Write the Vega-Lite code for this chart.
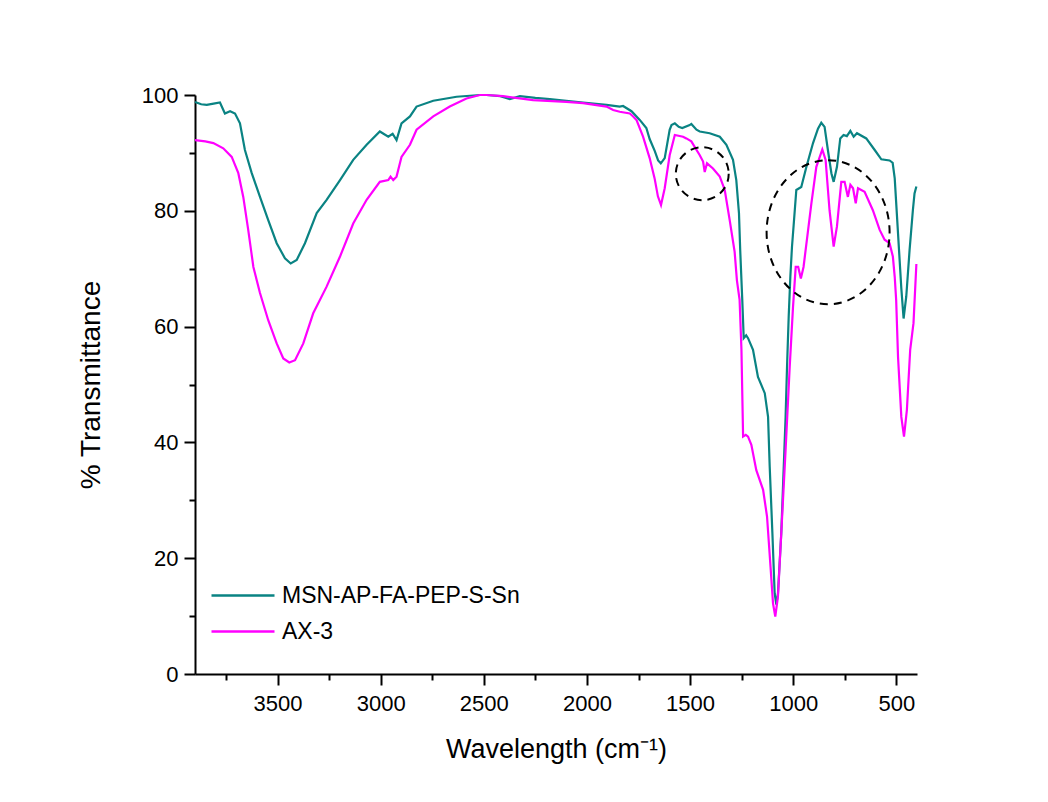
{
  "$schema": "https://vega.github.io/schema/vega-lite/v6.json",
  "autosize": {"type": "none"},
  "padding": {"left": 195, "top": 95, "right": 131, "bottom": 128},
  "width": 722,
  "height": 579,
  "background": "white",
  "config": {
    "view": {"stroke": null},
    "axis": {
      "grid": false,
      "domainColor": "black",
      "domainWidth": 2,
      "tickColor": "black",
      "tickWidth": 2,
      "labelFont": "Liberation Sans",
      "labelFontSize": 22,
      "labelColor": "black",
      "labelOverlap": false,
      "labelFlush": false,
      "titleFont": "Liberation Sans",
      "titleFontWeight": "normal",
      "titleColor": "black",
      "titleFontSize": 27
    },
    "legend": {
      "orient": "none",
      "legendX": 24,
      "legendY": 476.5,
      "symbolType": "M-1.4,0H1.4",
      "symbolSize": 2025,
      "symbolStrokeWidth": 2.5,
      "labelFont": "Liberation Sans",
      "labelFontSize": 23,
      "labelColor": "black",
      "labelLimit": 0,
      "labelOffset": 15,
      "rowPadding": 0,
      "padding": 0
    }
  },
  "datasets": {
    "spectra": [
      {"sample": "MSN-AP-FA-PEP-S-Sn", "wn": 3900, "T": 98.8},
      {"sample": "MSN-AP-FA-PEP-S-Sn", "wn": 3870, "T": 98.4},
      {"sample": "MSN-AP-FA-PEP-S-Sn", "wn": 3843, "T": 98.3},
      {"sample": "MSN-AP-FA-PEP-S-Sn", "wn": 3810, "T": 98.5},
      {"sample": "MSN-AP-FA-PEP-S-Sn", "wn": 3779, "T": 98.7},
      {"sample": "MSN-AP-FA-PEP-S-Sn", "wn": 3755, "T": 96.8},
      {"sample": "MSN-AP-FA-PEP-S-Sn", "wn": 3730, "T": 97.2},
      {"sample": "MSN-AP-FA-PEP-S-Sn", "wn": 3706, "T": 96.8},
      {"sample": "MSN-AP-FA-PEP-S-Sn", "wn": 3682, "T": 95.1},
      {"sample": "MSN-AP-FA-PEP-S-Sn", "wn": 3658, "T": 90.5},
      {"sample": "MSN-AP-FA-PEP-S-Sn", "wn": 3625, "T": 86.5},
      {"sample": "MSN-AP-FA-PEP-S-Sn", "wn": 3585, "T": 82.4},
      {"sample": "MSN-AP-FA-PEP-S-Sn", "wn": 3545, "T": 78.4},
      {"sample": "MSN-AP-FA-PEP-S-Sn", "wn": 3504, "T": 74.4},
      {"sample": "MSN-AP-FA-PEP-S-Sn", "wn": 3464, "T": 71.8},
      {"sample": "MSN-AP-FA-PEP-S-Sn", "wn": 3436, "T": 70.9},
      {"sample": "MSN-AP-FA-PEP-S-Sn", "wn": 3407, "T": 71.5},
      {"sample": "MSN-AP-FA-PEP-S-Sn", "wn": 3367, "T": 74.4},
      {"sample": "MSN-AP-FA-PEP-S-Sn", "wn": 3310, "T": 79.6},
      {"sample": "MSN-AP-FA-PEP-S-Sn", "wn": 3262, "T": 81.9},
      {"sample": "MSN-AP-FA-PEP-S-Sn", "wn": 3197, "T": 85.3},
      {"sample": "MSN-AP-FA-PEP-S-Sn", "wn": 3133, "T": 88.8},
      {"sample": "MSN-AP-FA-PEP-S-Sn", "wn": 3068, "T": 91.4},
      {"sample": "MSN-AP-FA-PEP-S-Sn", "wn": 3004, "T": 93.7},
      {"sample": "MSN-AP-FA-PEP-S-Sn", "wn": 2963, "T": 92.8},
      {"sample": "MSN-AP-FA-PEP-S-Sn", "wn": 2942, "T": 93.3},
      {"sample": "MSN-AP-FA-PEP-S-Sn", "wn": 2923, "T": 92.2},
      {"sample": "MSN-AP-FA-PEP-S-Sn", "wn": 2899, "T": 95.1},
      {"sample": "MSN-AP-FA-PEP-S-Sn", "wn": 2858, "T": 96.3},
      {"sample": "MSN-AP-FA-PEP-S-Sn", "wn": 2826, "T": 98.0},
      {"sample": "MSN-AP-FA-PEP-S-Sn", "wn": 2745, "T": 99.0},
      {"sample": "MSN-AP-FA-PEP-S-Sn", "wn": 2632, "T": 99.7},
      {"sample": "MSN-AP-FA-PEP-S-Sn", "wn": 2519, "T": 100},
      {"sample": "MSN-AP-FA-PEP-S-Sn", "wn": 2487, "T": 100},
      {"sample": "MSN-AP-FA-PEP-S-Sn", "wn": 2420, "T": 99.8},
      {"sample": "MSN-AP-FA-PEP-S-Sn", "wn": 2374, "T": 99.3},
      {"sample": "MSN-AP-FA-PEP-S-Sn", "wn": 2325, "T": 99.8},
      {"sample": "MSN-AP-FA-PEP-S-Sn", "wn": 2250, "T": 99.5},
      {"sample": "MSN-AP-FA-PEP-S-Sn", "wn": 2180, "T": 99.3},
      {"sample": "MSN-AP-FA-PEP-S-Sn", "wn": 2100, "T": 99.0},
      {"sample": "MSN-AP-FA-PEP-S-Sn", "wn": 2019, "T": 98.7},
      {"sample": "MSN-AP-FA-PEP-S-Sn", "wn": 1905, "T": 98.3},
      {"sample": "MSN-AP-FA-PEP-S-Sn", "wn": 1841, "T": 98.0},
      {"sample": "MSN-AP-FA-PEP-S-Sn", "wn": 1825, "T": 98.1},
      {"sample": "MSN-AP-FA-PEP-S-Sn", "wn": 1784, "T": 97.2},
      {"sample": "MSN-AP-FA-PEP-S-Sn", "wn": 1744, "T": 95.7},
      {"sample": "MSN-AP-FA-PEP-S-Sn", "wn": 1712, "T": 94.3},
      {"sample": "MSN-AP-FA-PEP-S-Sn", "wn": 1696, "T": 92.4},
      {"sample": "MSN-AP-FA-PEP-S-Sn", "wn": 1671, "T": 90.3},
      {"sample": "MSN-AP-FA-PEP-S-Sn", "wn": 1655, "T": 88.7},
      {"sample": "MSN-AP-FA-PEP-S-Sn", "wn": 1642, "T": 88.2},
      {"sample": "MSN-AP-FA-PEP-S-Sn", "wn": 1623, "T": 89.1},
      {"sample": "MSN-AP-FA-PEP-S-Sn", "wn": 1599, "T": 94.0},
      {"sample": "MSN-AP-FA-PEP-S-Sn", "wn": 1590, "T": 94.8},
      {"sample": "MSN-AP-FA-PEP-S-Sn", "wn": 1574, "T": 95.1},
      {"sample": "MSN-AP-FA-PEP-S-Sn", "wn": 1555, "T": 94.5},
      {"sample": "MSN-AP-FA-PEP-S-Sn", "wn": 1538, "T": 94.3},
      {"sample": "MSN-AP-FA-PEP-S-Sn", "wn": 1502, "T": 94.8},
      {"sample": "MSN-AP-FA-PEP-S-Sn", "wn": 1494, "T": 95.0},
      {"sample": "MSN-AP-FA-PEP-S-Sn", "wn": 1469, "T": 94.0},
      {"sample": "MSN-AP-FA-PEP-S-Sn", "wn": 1453, "T": 93.7},
      {"sample": "MSN-AP-FA-PEP-S-Sn", "wn": 1405, "T": 93.4},
      {"sample": "MSN-AP-FA-PEP-S-Sn", "wn": 1356, "T": 92.8},
      {"sample": "MSN-AP-FA-PEP-S-Sn", "wn": 1324, "T": 91.4},
      {"sample": "MSN-AP-FA-PEP-S-Sn", "wn": 1292, "T": 88.8},
      {"sample": "MSN-AP-FA-PEP-S-Sn", "wn": 1276, "T": 85.3},
      {"sample": "MSN-AP-FA-PEP-S-Sn", "wn": 1263, "T": 79.6},
      {"sample": "MSN-AP-FA-PEP-S-Sn", "wn": 1257, "T": 73.2},
      {"sample": "MSN-AP-FA-PEP-S-Sn", "wn": 1251, "T": 68.0},
      {"sample": "MSN-AP-FA-PEP-S-Sn", "wn": 1247, "T": 64.6},
      {"sample": "MSN-AP-FA-PEP-S-Sn", "wn": 1240, "T": 58.0},
      {"sample": "MSN-AP-FA-PEP-S-Sn", "wn": 1228, "T": 58.5},
      {"sample": "MSN-AP-FA-PEP-S-Sn", "wn": 1219, "T": 58.0},
      {"sample": "MSN-AP-FA-PEP-S-Sn", "wn": 1195, "T": 56.0},
      {"sample": "MSN-AP-FA-PEP-S-Sn", "wn": 1171, "T": 51.3},
      {"sample": "MSN-AP-FA-PEP-S-Sn", "wn": 1138, "T": 48.5},
      {"sample": "MSN-AP-FA-PEP-S-Sn", "wn": 1122, "T": 44.4},
      {"sample": "MSN-AP-FA-PEP-S-Sn", "wn": 1114, "T": 35.8},
      {"sample": "MSN-AP-FA-PEP-S-Sn", "wn": 1101, "T": 24.3},
      {"sample": "MSN-AP-FA-PEP-S-Sn", "wn": 1090, "T": 13.9},
      {"sample": "MSN-AP-FA-PEP-S-Sn", "wn": 1082, "T": 12.0},
      {"sample": "MSN-AP-FA-PEP-S-Sn", "wn": 1074, "T": 13.9},
      {"sample": "MSN-AP-FA-PEP-S-Sn", "wn": 1058, "T": 24.3},
      {"sample": "MSN-AP-FA-PEP-S-Sn", "wn": 1046, "T": 35.8},
      {"sample": "MSN-AP-FA-PEP-S-Sn", "wn": 1037, "T": 44.4},
      {"sample": "MSN-AP-FA-PEP-S-Sn", "wn": 1030, "T": 53.1},
      {"sample": "MSN-AP-FA-PEP-S-Sn", "wn": 1022, "T": 61.7},
      {"sample": "MSN-AP-FA-PEP-S-Sn", "wn": 1014, "T": 68.6},
      {"sample": "MSN-AP-FA-PEP-S-Sn", "wn": 1006, "T": 73.8},
      {"sample": "MSN-AP-FA-PEP-S-Sn", "wn": 998, "T": 77.5},
      {"sample": "MSN-AP-FA-PEP-S-Sn", "wn": 985, "T": 83.6},
      {"sample": "MSN-AP-FA-PEP-S-Sn", "wn": 961, "T": 84.1},
      {"sample": "MSN-AP-FA-PEP-S-Sn", "wn": 936, "T": 87.6},
      {"sample": "MSN-AP-FA-PEP-S-Sn", "wn": 904, "T": 91.7},
      {"sample": "MSN-AP-FA-PEP-S-Sn", "wn": 880, "T": 94.2},
      {"sample": "MSN-AP-FA-PEP-S-Sn", "wn": 864, "T": 95.2},
      {"sample": "MSN-AP-FA-PEP-S-Sn", "wn": 848, "T": 94.5},
      {"sample": "MSN-AP-FA-PEP-S-Sn", "wn": 832, "T": 90.5},
      {"sample": "MSN-AP-FA-PEP-S-Sn", "wn": 815, "T": 86.5},
      {"sample": "MSN-AP-FA-PEP-S-Sn", "wn": 804, "T": 85.0},
      {"sample": "MSN-AP-FA-PEP-S-Sn", "wn": 788, "T": 87.6},
      {"sample": "MSN-AP-FA-PEP-S-Sn", "wn": 772, "T": 92.5},
      {"sample": "MSN-AP-FA-PEP-S-Sn", "wn": 756, "T": 93.1},
      {"sample": "MSN-AP-FA-PEP-S-Sn", "wn": 740, "T": 92.9},
      {"sample": "MSN-AP-FA-PEP-S-Sn", "wn": 723, "T": 93.8},
      {"sample": "MSN-AP-FA-PEP-S-Sn", "wn": 707, "T": 92.8},
      {"sample": "MSN-AP-FA-PEP-S-Sn", "wn": 691, "T": 93.4},
      {"sample": "MSN-AP-FA-PEP-S-Sn", "wn": 646, "T": 92.5},
      {"sample": "MSN-AP-FA-PEP-S-Sn", "wn": 605, "T": 90.5},
      {"sample": "MSN-AP-FA-PEP-S-Sn", "wn": 573, "T": 88.9},
      {"sample": "MSN-AP-FA-PEP-S-Sn", "wn": 533, "T": 88.7},
      {"sample": "MSN-AP-FA-PEP-S-Sn", "wn": 518, "T": 88.3},
      {"sample": "MSN-AP-FA-PEP-S-Sn", "wn": 508, "T": 85.6},
      {"sample": "MSN-AP-FA-PEP-S-Sn", "wn": 492, "T": 76.1},
      {"sample": "MSN-AP-FA-PEP-S-Sn", "wn": 476, "T": 66.6},
      {"sample": "MSN-AP-FA-PEP-S-Sn", "wn": 465, "T": 61.4},
      {"sample": "MSN-AP-FA-PEP-S-Sn", "wn": 452, "T": 65.2},
      {"sample": "MSN-AP-FA-PEP-S-Sn", "wn": 436, "T": 73.2},
      {"sample": "MSN-AP-FA-PEP-S-Sn", "wn": 420, "T": 80.1},
      {"sample": "MSN-AP-FA-PEP-S-Sn", "wn": 412, "T": 83.0},
      {"sample": "MSN-AP-FA-PEP-S-Sn", "wn": 403, "T": 84.2},

      {"sample": "AX-3", "wn": 3900, "T": 92.2},
      {"sample": "AX-3", "wn": 3850, "T": 92.0},
      {"sample": "AX-3", "wn": 3811, "T": 91.7},
      {"sample": "AX-3", "wn": 3763, "T": 90.8},
      {"sample": "AX-3", "wn": 3722, "T": 89.3},
      {"sample": "AX-3", "wn": 3690, "T": 86.5},
      {"sample": "AX-3", "wn": 3666, "T": 82.4},
      {"sample": "AX-3", "wn": 3642, "T": 76.7},
      {"sample": "AX-3", "wn": 3617, "T": 70.3},
      {"sample": "AX-3", "wn": 3585, "T": 65.8},
      {"sample": "AX-3", "wn": 3545, "T": 61.1},
      {"sample": "AX-3", "wn": 3504, "T": 57.1},
      {"sample": "AX-3", "wn": 3472, "T": 54.5},
      {"sample": "AX-3", "wn": 3443, "T": 53.8},
      {"sample": "AX-3", "wn": 3415, "T": 54.2},
      {"sample": "AX-3", "wn": 3375, "T": 57.1},
      {"sample": "AX-3", "wn": 3327, "T": 62.3},
      {"sample": "AX-3", "wn": 3262, "T": 66.9},
      {"sample": "AX-3", "wn": 3197, "T": 72.1},
      {"sample": "AX-3", "wn": 3133, "T": 77.8},
      {"sample": "AX-3", "wn": 3068, "T": 81.9},
      {"sample": "AX-3", "wn": 3004, "T": 85.0},
      {"sample": "AX-3", "wn": 2963, "T": 85.3},
      {"sample": "AX-3", "wn": 2952, "T": 85.9},
      {"sample": "AX-3", "wn": 2939, "T": 85.3},
      {"sample": "AX-3", "wn": 2923, "T": 85.9},
      {"sample": "AX-3", "wn": 2899, "T": 89.3},
      {"sample": "AX-3", "wn": 2858, "T": 91.4},
      {"sample": "AX-3", "wn": 2826, "T": 94.0},
      {"sample": "AX-3", "wn": 2745, "T": 96.3},
      {"sample": "AX-3", "wn": 2665, "T": 98.0},
      {"sample": "AX-3", "wn": 2584, "T": 99.4},
      {"sample": "AX-3", "wn": 2519, "T": 100},
      {"sample": "AX-3", "wn": 2487, "T": 100},
      {"sample": "AX-3", "wn": 2406, "T": 99.8},
      {"sample": "AX-3", "wn": 2261, "T": 99.1},
      {"sample": "AX-3", "wn": 2100, "T": 98.8},
      {"sample": "AX-3", "wn": 2019, "T": 98.6},
      {"sample": "AX-3", "wn": 1905, "T": 98.0},
      {"sample": "AX-3", "wn": 1873, "T": 97.4},
      {"sample": "AX-3", "wn": 1841, "T": 97.1},
      {"sample": "AX-3", "wn": 1792, "T": 96.8},
      {"sample": "AX-3", "wn": 1776, "T": 96.3},
      {"sample": "AX-3", "wn": 1760, "T": 95.7},
      {"sample": "AX-3", "wn": 1728, "T": 92.8},
      {"sample": "AX-3", "wn": 1696, "T": 89.1},
      {"sample": "AX-3", "wn": 1672, "T": 85.6},
      {"sample": "AX-3", "wn": 1656, "T": 82.5},
      {"sample": "AX-3", "wn": 1641, "T": 81.0},
      {"sample": "AX-3", "wn": 1623, "T": 83.9},
      {"sample": "AX-3", "wn": 1599, "T": 89.6},
      {"sample": "AX-3", "wn": 1574, "T": 93.1},
      {"sample": "AX-3", "wn": 1534, "T": 92.8},
      {"sample": "AX-3", "wn": 1518, "T": 92.5},
      {"sample": "AX-3", "wn": 1494, "T": 92.0},
      {"sample": "AX-3", "wn": 1453, "T": 89.6},
      {"sample": "AX-3", "wn": 1437, "T": 88.5},
      {"sample": "AX-3", "wn": 1429, "T": 86.7},
      {"sample": "AX-3", "wn": 1418, "T": 88.2},
      {"sample": "AX-3", "wn": 1389, "T": 87.3},
      {"sample": "AX-3", "wn": 1356, "T": 85.9},
      {"sample": "AX-3", "wn": 1332, "T": 83.6},
      {"sample": "AX-3", "wn": 1308, "T": 78.4},
      {"sample": "AX-3", "wn": 1284, "T": 72.9},
      {"sample": "AX-3", "wn": 1273, "T": 68.0},
      {"sample": "AX-3", "wn": 1260, "T": 64.6},
      {"sample": "AX-3", "wn": 1251, "T": 56.0},
      {"sample": "AX-3", "wn": 1243, "T": 41.0},
      {"sample": "AX-3", "wn": 1230, "T": 41.3},
      {"sample": "AX-3", "wn": 1219, "T": 41.0},
      {"sample": "AX-3", "wn": 1203, "T": 39.6},
      {"sample": "AX-3", "wn": 1179, "T": 35.2},
      {"sample": "AX-3", "wn": 1146, "T": 31.8},
      {"sample": "AX-3", "wn": 1127, "T": 27.2},
      {"sample": "AX-3", "wn": 1110, "T": 18.5},
      {"sample": "AX-3", "wn": 1098, "T": 12.2},
      {"sample": "AX-3", "wn": 1087, "T": 9.9},
      {"sample": "AX-3", "wn": 1074, "T": 13.4},
      {"sample": "AX-3", "wn": 1058, "T": 24.3},
      {"sample": "AX-3", "wn": 1037, "T": 38.7},
      {"sample": "AX-3", "wn": 1017, "T": 53.1},
      {"sample": "AX-3", "wn": 1001, "T": 63.4},
      {"sample": "AX-3", "wn": 988, "T": 70.3},
      {"sample": "AX-3", "wn": 976, "T": 70.3},
      {"sample": "AX-3", "wn": 963, "T": 68.3},
      {"sample": "AX-3", "wn": 950, "T": 70.3},
      {"sample": "AX-3", "wn": 932, "T": 75.5},
      {"sample": "AX-3", "wn": 912, "T": 81.3},
      {"sample": "AX-3", "wn": 888, "T": 87.6},
      {"sample": "AX-3", "wn": 859, "T": 90.6},
      {"sample": "AX-3", "wn": 843, "T": 88.8},
      {"sample": "AX-3", "wn": 824, "T": 80.1},
      {"sample": "AX-3", "wn": 804, "T": 73.8},
      {"sample": "AX-3", "wn": 788, "T": 77.3},
      {"sample": "AX-3", "wn": 767, "T": 85.0},
      {"sample": "AX-3", "wn": 751, "T": 85.0},
      {"sample": "AX-3", "wn": 735, "T": 82.4},
      {"sample": "AX-3", "wn": 723, "T": 84.5},
      {"sample": "AX-3", "wn": 710, "T": 83.9},
      {"sample": "AX-3", "wn": 697, "T": 81.3},
      {"sample": "AX-3", "wn": 686, "T": 83.9},
      {"sample": "AX-3", "wn": 654, "T": 83.3},
      {"sample": "AX-3", "wn": 614, "T": 80.1},
      {"sample": "AX-3", "wn": 581, "T": 76.7},
      {"sample": "AX-3", "wn": 557, "T": 75.0},
      {"sample": "AX-3", "wn": 533, "T": 74.4},
      {"sample": "AX-3", "wn": 517, "T": 72.1},
      {"sample": "AX-3", "wn": 508, "T": 68.6},
      {"sample": "AX-3", "wn": 501, "T": 64.6},
      {"sample": "AX-3", "wn": 492, "T": 54.8},
      {"sample": "AX-3", "wn": 476, "T": 44.4},
      {"sample": "AX-3", "wn": 463, "T": 41.0},
      {"sample": "AX-3", "wn": 449, "T": 45.6},
      {"sample": "AX-3", "wn": 433, "T": 56.0},
      {"sample": "AX-3", "wn": 417, "T": 60.6},
      {"sample": "AX-3", "wn": 403, "T": 70.8}
    ],
    "marks": [
      {"region": "small", "wn": 1441, "T": 86.4},
      {"region": "large", "wn": 831, "T": 76.3}
    ]
  },
  "layer": [
    {
      "data": {"name": "spectra"},
      "mark": {"type": "line", "strokeWidth": 2.2, "interpolate": "linear"},
      "encoding": {
        "x": {
          "field": "wn",
          "type": "quantitative",
          "scale": {"domain": [400, 3900], "reverse": true, "nice": false, "zero": false},
          "axis": {
            "title": "Wavelength (cm⁻¹)",
            "values": [3750, 3500, 3250, 3000, 2750, 2500, 2250, 2000, 1750, 1500, 1250, 1000, 750, 500],
            "format": "d",
            "labelExpr": "datum.value % 500 === 0 ? datum.label : ''",
            "tickSize": {"condition": {"test": "datum.value % 500 === 0", "value": 11}, "value": 6},
            "labelPadding": 8,
            "titlePadding": 22
          }
        },
        "y": {
          "field": "T",
          "type": "quantitative",
          "scale": {"domain": [0, 100], "nice": false},
          "axis": {
            "title": "% Transmittance",
            "titleFontSize": 28,
            "values": [0, 10, 20, 30, 40, 50, 60, 70, 80, 90, 100],
            "labelExpr": "datum.value % 20 === 0 ? datum.label : ''",
            "tickSize": {"condition": {"test": "datum.value % 20 === 0", "value": 11}, "value": 6},
            "labelPadding": 6,
            "titlePadding": 36
          }
        },
        "color": {
          "field": "sample",
          "type": "nominal",
          "scale": {"domain": ["MSN-AP-FA-PEP-S-Sn", "AX-3"], "range": ["#0a8383", "#ff00ff"]},
          "legend": {"title": null}
        }
      }
    },
    {
      "data": {"name": "marks"},
      "transform": [{"filter": "datum.region === 'small'"}],
      "mark": {"type": "point", "shape": "circle", "filled": false, "size": 2800, "color": "black", "opacity": 1, "strokeWidth": 2, "strokeDash": [8, 6]},
      "encoding": {
        "x": {"field": "wn", "type": "quantitative"},
        "y": {"field": "T", "type": "quantitative"}
      }
    },
    {
      "data": {"name": "marks"},
      "transform": [{"filter": "datum.region === 'large'"}],
      "mark": {"type": "point", "shape": "M0,-1A0.854,1 0 1,1 0,1A0.854,1 0 1,1 0,-1Z", "filled": false, "size": 20736, "color": "black", "opacity": 1, "strokeWidth": 2, "strokeDash": [8, 6]},
      "encoding": {
        "x": {"field": "wn", "type": "quantitative"},
        "y": {"field": "T", "type": "quantitative"}
      }
    }
  ]
}
